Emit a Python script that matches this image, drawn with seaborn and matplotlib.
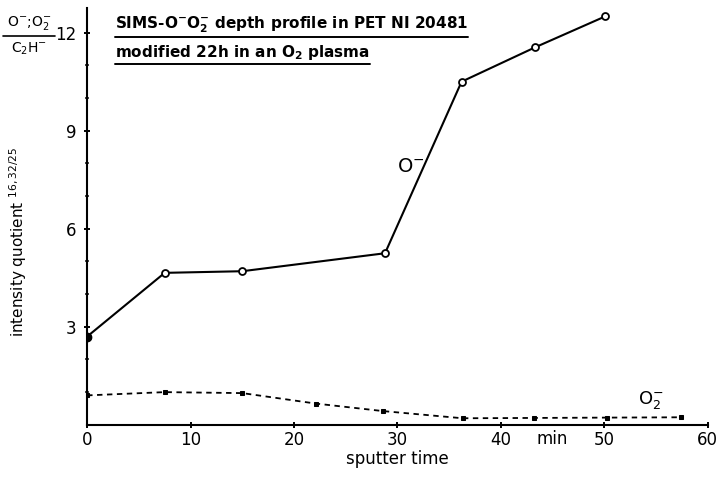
import numpy as np
import pandas as pd
import matplotlib
matplotlib.use("Agg")
import matplotlib.pyplot as plt
from matplotlib.lines import Line2D
import seaborn as sns

# data
o_time = [0, 7.5, 15, 28.8, 36.2, 43.3, 50.1]
o_ratio = [2.7, 4.65, 4.7, 5.25, 10.5, 11.55, 12.5]

o2_time = [0, 7.5, 15, 22.1, 28.6, 36.3, 43.2, 50.3, 57.4]
o2_ratio = [0.9, 1.0, 0.97, 0.65, 0.42, 0.2, 0.21, 0.22, 0.23]

x_ticks = [0, 10, 20, 30, 40, 50, 60]
y_ticks = [3, 6, 9, 12]

sns.set_style("ticks")
plt.rcParams['font.family'] = ['DejaVu Sans']
plt.rcParams['mathtext.default'] = 'regular'
plt.rcParams['text.color'] = 'black'
plt.rcParams['axes.labelcolor'] = 'black'

df_o = pd.DataFrame({"t": o_time, "q": o_ratio})
df_o2 = pd.DataFrame({"t": o2_time, "q": o2_ratio})

fig = plt.figure(figsize=(7.2, 4.8), dpi=100)
ax = fig.add_axes([0.121, 0.115, 0.862, 0.868])

sns.lineplot(data=df_o, x="t", y="q", ax=ax, color="black", lw=1.5,
             marker="o", markersize=5, markerfacecolor="white",
             markeredgecolor="black", markeredgewidth=1.3)
# first O- point is drawn filled
ax.plot(o_time[0], o_ratio[0], "o", color="black", markersize=6)

sns.lineplot(data=df_o2, x="t", y="q", ax=ax, color="black", lw=1.3,
             linestyle=(0, (3, 2.5)), marker="s", markersize=3,
             markerfacecolor="black", markeredgecolor="black")

ax.set_xlim(0, 60)
ax.set_ylim(0, 12.75)
ax.set_xticks(x_ticks)
ax.set_yticks(y_ticks)
ax.set_yticks(np.arange(1, 13), minor=True)
ax.tick_params(axis="both", which="major", direction="inout", length=5,
               width=1.4, labelsize=12, colors="black")
ax.tick_params(axis="y", which="minor", direction="inout", length=3, width=1.2)
ax.tick_params(axis="x", pad=2)
ax.tick_params(axis="y", pad=5)
sns.despine(ax=ax)
for s in ["left", "bottom"]:
    ax.spines[s].set_linewidth(1.5)
    ax.spines[s].set_color("black")

ax.set_xlabel("sputter time", fontsize=12, labelpad=1)
ax.set_ylabel("intensity quotient $^{16,32/25}$", fontsize=11)
ax.yaxis.set_label_coords(-0.093, 0.44)

ax.text(45, -0.15, "min", fontsize=12, ha="center", va="top")
ax.text(31.3, 7.9, "O$^{-}$", fontsize=14, ha="center", va="center")
ax.text(54.5, 0.75, "O$_2^{-}$", fontsize=13, ha="center", va="center")

# left-hand quotient label
fig.text(0.040, 0.952, "O$^{-}$;O$_2^{-}$", fontsize=10, ha="center", va="center")
fig.add_artist(Line2D([0.004, 0.076], [0.925, 0.925], color="black", lw=1.2))
fig.text(0.040, 0.898, "C$_2$H$^{-}$", fontsize=10, ha="center", va="center")

# underlined title
title1 = fig.text(0.160, 0.948, "SIMS-O$^{-}$O$_2^{-}$ depth profile in PET NI 20481",
                  fontsize=11, fontweight="bold", ha="left", va="center")
title2 = fig.text(0.160, 0.890, "modified 22h in an O$_2$ plasma",
                  fontsize=11, fontweight="bold", ha="left", va="center")
fig.canvas.draw()
inv = fig.transFigure.inverted()
for t in (title1, title2):
    bb = t.get_window_extent().transformed(inv)
    fig.add_artist(Line2D([bb.x0, bb.x1], [bb.y0 - 0.004, bb.y0 - 0.004],
                          color="black", lw=1.4))

fig.savefig("out.png", dpi=100)
